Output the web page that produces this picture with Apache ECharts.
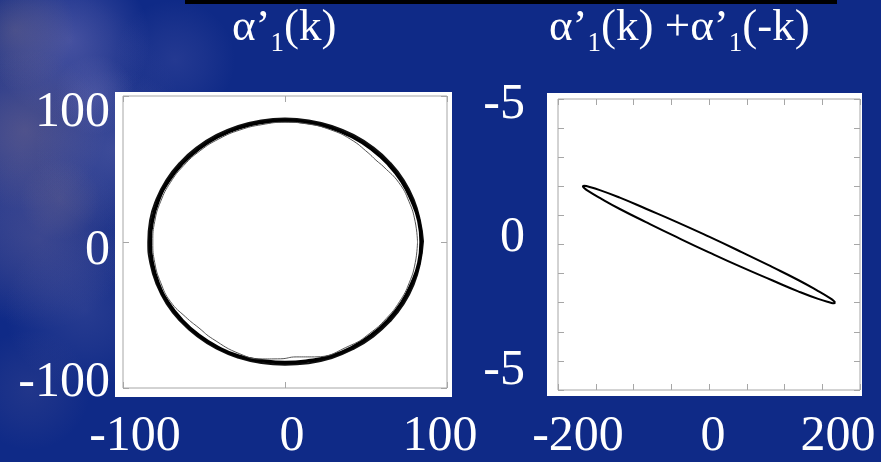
<!DOCTYPE html>
<html>
<head>
<meta charset="utf-8">
<script src="https://cdn.jsdelivr.net/npm/echarts@6/dist/echarts.min.js"></script>
<style>
  html, body { margin: 0; padding: 0; background: #0f2a87; }
  #chart { width: 881px; height: 462px; }
</style>
</head>
<body>
<div id="chart"></div>
<script>
// ---- trajectory of α'1(k): several overlapping loops (x, y) ----
const loopMain = [
  [84, 0], [82.6, 14.5], [78.2, 28.5], [72.1, 41.6], [63.7, 53.5], [53.5, 63.7],
  [41.6, 72.1], [28.5, 78.2], [14.4, 81.9], [0, 83.2], [-14.4, 81.9], [-28.5, 78.2],
  [-41.6, 72.1], [-53.5, 63.7], [-63.7, 53.5], [-72.1, 41.6], [-78.2, 28.5], [-81.9, 14.4],
  [-83.2, 0], [-81.9, -14.4], [-78.2, -28.5], [-72.1, -41.6], [-63.7, -53.5], [-53.5, -63.7],
  [-41.6, -72.1], [-28.5, -78.2], [-14.3, -81.3], [0, -82.6], [14.4, -81.4], [28.5, -78.2],
  [41.6, -72.1], [53.5, -63.7], [63.7, -53.5], [72.1, -41.6], [78.2, -28.5], [82.6, -14.5],
  [84, 0]
];
const loopOuter = [
  [85.2, 0.5], [83.3, 14.7], [79.5, 28.9], [73.3, 42.3], [64.8, 54.4], [54.4, 64.8],
  [42.3, 73.3], [28.9, 79.5], [14.7, 83.3], [0, 84.6], [-14.7, 83.3], [-28.9, 79.5],
  [-42.3, 73.3], [-54.4, 64.8], [-64.8, 54.4], [-73.3, 42.3], [-79.5, 28.9], [-83.3, 14.7],
  [-84.4, 0], [-83.1, -14.6], [-79.3, -28.8], [-73.1, -42.2], [-64.6, -54.2], [-54.2, -64.6],
  [-42.2, -73.1], [-28.8, -79.3], [-14.6, -82.9], [0, -84], [14.6, -83], [28.9, -79.4],
  [42.3, -73.2], [54.4, -64.8], [64.8, -54.4], [73.3, -42.3], [79.5, -28.9], [83.3, -14.7],
  [85.2, 0.5]
];
const loopInner = [
  [81.8, 0], [80.3, 14.2], [76.5, 27.8], [70.3, 40.6], [61.1, 51.3], [56.1, 56.1],
  [51.3, 61.1], [40.6, 70.3], [28, 76.9], [14.2, 80.8], [0, 82], [-14.2, 80.4],
  [-27.9, 76.7], [-40.8, 70.6], [-52.4, 62.5], [-62.5, 52.4], [-70.7, 40.8], [-76.7, 27.9],
  [-80.4, 14.2], [-81.6, 0], [-80.4, -14.2], [-76.7, -27.9], [-70.7, -40.8], [-61.3, -51.4],
  [-53.1, -58.9], [-44.7, -66.3], [-27.9, -76.6], [-14.1, -80.1], [-2.8, -80], [6.9, -78.7],
  [18.2, -78.7], [40.8, -70.6], [52.4, -62.5], [62.5, -52.4], [70.7, -40.8], [76.7, -27.9],
  [80.4, -14.2], [81.8, 0]
];

// ---- trajectory of α'1(k) + α'1(-k): a thin tilted loop ----
const loopSum = [
  [167, -2.0], [165.6, -1.95], [161.3, -1.86], [144.6, -1.6], [118.1, -1.22], [83.5, -0.77],
  [43.2, -0.26], [0, 0.27], [-43.2, 0.78], [-83.5, 1.23], [-118.1, 1.61], [-144.6, 1.87],
  [-161.3, 2.0], [-165.6, 2.02], [-167, 2.0], [-165.6, 1.95], [-161.3, 1.86], [-144.6, 1.6],
  [-118.1, 1.22], [-83.5, 0.77], [-43.2, 0.26], [0, -0.27], [43.2, -0.78], [83.5, -1.23],
  [118.1, -1.61], [144.6, -1.87], [161.3, -2.0], [165.6, -2.02], [167, -2.0]
];

// ---- tick values and their printed labels ----
const leftXTicks = [-100, 0, 100];
const leftXLabels = ['-100', '0', '100'];
const leftYTicks = [-100, 0, 100];
const leftYLabels = ['-100', '0', '100'];
const rightXTicks = [-200, 0, 200];
const rightXLabels = ['-200', '0', '200'];
const rightYTicks = [-5, 0, 5];
const rightYLabels = ['-5', '0', '-5'];

const SERIF = '"Times New Roman", "Liberation Serif", serif';
const WHITE = '#ffffff';
const FRAME = '#a6a6a6';

// padding that nudges a label by (dx, dy) pixels around its tick
function nudge(dx, dy) {
  return [dy > 0 ? 2 * dy : 0, dx < 0 ? -2 * dx : 0, dy < 0 ? -2 * dy : 0, dx > 0 ? 2 * dx : 0];
}
function tickLabel(ticks, labels, shifts, margin) {
  const rich = {};
  shifts.forEach((s, i) => {
    rich['p' + i] = { fontFamily: SERIF, fontSize: 50, color: WHITE, padding: nudge(s[0], s[1]) };
  });
  return {
    show: true, margin: margin, showMinLabel: true, showMaxLabel: true,
    fontFamily: SERIF, fontSize: 50, color: WHITE,
    formatter: v => {
      const i = ticks.indexOf(v);
      return i < 0 ? '' : '{p' + i + '|' + labels[i] + '}';
    },
    rich: rich
  };
}
const innerTicks = { show: true, inside: true, length: 6, lineStyle: { color: FRAME, width: 1 } };
const bareAxis = { axisLine: { show: false, onZero: false }, splitLine: { show: false } };

function mirrorAxis(base, pos) {
  return Object.assign({}, base, {
    position: pos, axisLabel: { show: false }, axisTick: innerTicks,
    axisLine: { show: false, onZero: false }, splitLine: { show: false }
  });
}

const lx = { type: 'value', gridIndex: 0, min: -100, max: 100, interval: 100 };
const ly = { type: 'value', gridIndex: 0, min: -100, max: 100, interval: 100 };
const rx = { type: 'value', gridIndex: 1, min: -200, max: 200, interval: 50 };
const ry = { type: 'value', gridIndex: 1, min: -5, max: 5, interval: 1 };

// soft light patches in the upper-left corner of the backdrop
const glow = (cx, cy, rx_, ry_, c, a) => ({
  type: 'ellipse', z: -20, silent: true,
  shape: { cx: cx, cy: cy, rx: rx_, ry: ry_ },
  style: {
    fill: {
      type: 'radial', x: 0.5, y: 0.5, r: 0.5,
      colorStops: [
        { offset: 0, color: 'rgba(' + c + ',' + a + ')' },
        { offset: 0.5, color: 'rgba(' + c + ',' + (a * 0.55) + ')' },
        { offset: 1, color: 'rgba(' + c + ',0)' }
      ]
    }
  }
});

// subscript "1" is pushed down with top padding inside a tall line
const titleRich = {
  a: { fontFamily: SERIF, fontSize: 45, fontWeight: 'normal', color: WHITE, lineHeight: 60 },
  s: { fontFamily: SERIF, fontSize: 27, fontWeight: 'normal', color: WHITE, lineHeight: 27,
       verticalAlign: 'top', padding: [32, 0, 0, 0] }
};

const chart = echarts.init(document.getElementById('chart'), null, { renderer: 'canvas' });
chart.setOption({
  backgroundColor: '#0f2a87',
  animation: false,
  title: [
    { text: '{a|α’}{s|1}{a|(k)}', left: 227, top: -7, textStyle: { fontWeight: 'normal', rich: titleRich } },
    { text: '{a|α’}{s|1}{a|(k) +α’}{s|1}{a|(-k)}', left: 544, top: -7, textStyle: { fontWeight: 'normal', rich: titleRich } }
  ],
  graphic: [
    glow(20, 150, 170, 230, '110,105,160', 0.35),
    glow(70, 40, 110, 80, '130,125,190', 0.42),
    glow(15, 30, 70, 60, '125,110,130', 0.4),
    glow(25, 130, 80, 90, '135,115,135', 0.38),
    glow(115, 150, 90, 80, '120,120,180', 0.33),
    glow(40, 240, 100, 90, '115,105,150', 0.33),
    glow(85, 310, 90, 80, '110,110,170', 0.26),
    glow(175, 60, 80, 60, '110,110,180', 0.22),
    glow(30, 390, 80, 60, '105,100,150', 0.2),
    glow(95, 95, 50, 40, '140,135,195', 0.25),
    glow(60, 200, 45, 40, '130,115,140', 0.25),
    glow(150, 250, 60, 50, '110,110,175', 0.15),
    { type: 'rect', z: -15, silent: true, shape: { x: 185, y: 0, width: 652, height: 4 }, style: { fill: '#000' } },
    { type: 'rect', z: -15, silent: true, shape: { x: 115, y: 92, width: 337, height: 305 }, style: { fill: '#fff' } },
    { type: 'rect', z: -15, silent: true, shape: { x: 547, y: 93, width: 315, height: 303 }, style: { fill: '#fff' } }
  ],
  grid: [
    { left: 123, top: 96, width: 324, height: 292, show: true, backgroundColor: '#fff', borderColor: FRAME, borderWidth: 1 },
    { left: 558, top: 99, width: 302, height: 291, show: true, backgroundColor: '#fff', borderColor: FRAME, borderWidth: 1 }
  ],
  xAxis: [
    Object.assign({}, lx, bareAxis, { position: 'bottom', axisTick: innerTicks,
      axisLabel: tickLabel(leftXTicks, leftXLabels, [[12, 0], [7, 0], [-7, 0]], 24) }),
    mirrorAxis(lx, 'top'),
    Object.assign({}, rx, bareAxis, { position: 'bottom', axisTick: innerTicks,
      axisLabel: tickLabel(rightXTicks, rightXLabels, [[20, 0], [4, 0], [-22, 0]], 22) }),
    mirrorAxis(rx, 'top')
  ],
  yAxis: [
    Object.assign({}, ly, bareAxis, { position: 'left', axisTick: innerTicks,
      axisLabel: tickLabel(leftYTicks, leftYLabels, [[0, -5], [0, 9], [0, 17]], 13) }),
    mirrorAxis(ly, 'right'),
    Object.assign({}, ry, bareAxis, { position: 'left', axisTick: innerTicks,
      axisLabel: tickLabel(rightYTicks, rightYLabels, [[0, -19.5], [0, -6.5], [0, 6]], 33) }),
    mirrorAxis(ry, 'right')
  ],
  series: [
    { type: 'line', xAxisIndex: 0, yAxisIndex: 0, data: loopOuter, smooth: true, showSymbol: false,
      lineStyle: { color: '#111', width: 2 }, z: 3 },
    { type: 'line', xAxisIndex: 0, yAxisIndex: 0, data: loopMain, smooth: true, showSymbol: false,
      lineStyle: { color: '#000', width: 3.5 }, z: 4 },
    { type: 'line', xAxisIndex: 0, yAxisIndex: 0, data: loopInner, smooth: true, showSymbol: false,
      lineStyle: { color: '#555', width: 1 }, z: 5 },
    { type: 'line', xAxisIndex: 2, yAxisIndex: 2, data: loopSum, smooth: true, showSymbol: false,
      lineStyle: { color: '#000', width: 2 }, z: 4 }
  ]
});
</script>
</body>
</html>
